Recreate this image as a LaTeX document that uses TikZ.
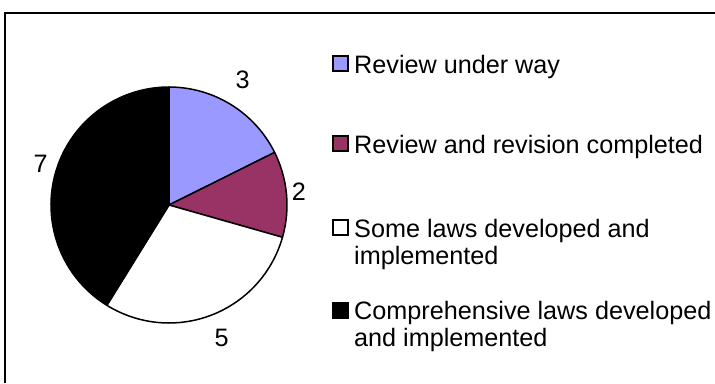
\documentclass[tikz,border=0pt]{standalone}
\usepackage{fontspec}
\setmainfont{Liberation Sans}
\definecolor{pieblue}{HTML}{9999FF}
\definecolor{piepurple}{HTML}{993366}
\tikzset{
  slice/.style={draw=black, line width=1.5bp, line join=round},
  legsq/.style={draw=black, line width=1.5bp, minimum size=15bp, inner sep=0pt},
  legtext/.style={anchor=base west, inner sep=0pt, font=\fontsize{25.2bp}{28bp}\selectfont},
  numlabel/.style={inner sep=0pt, font=\fontsize{25.2bp}{28bp}\selectfont},
}
\begin{document}
\begin{tikzpicture}[x=1bp, y=-1bp]
\useasboundingbox (0,0) rectangle (715,383);
% frame (only top and left edges visible)
\draw[line width=1.5bp] (5,383) -- (5,13) -- (715,13);
% pie
\begin{scope}[shift={(169,205)}, y=1bp]
  \coordinate (c) at (0,0);
  \filldraw[slice, fill=pieblue] (c) -- (90:118) arc[start angle=90, end angle=26.47, radius=118] -- cycle;
  \filldraw[slice, fill=piepurple] (c) -- (26.47:118) arc[start angle=26.47, end angle=-15.88, radius=118] -- cycle;
  \filldraw[slice, fill=white] (c) -- (-15.88:118) arc[start angle=-15.88, end angle=-121.76, radius=118] -- cycle;
  \filldraw[slice, fill=black] (c) -- (-121.76:118) arc[start angle=-121.76, end angle=-270, radius=118] -- cycle;
\end{scope}
% value labels
\node[numlabel] (n3) at (242.7,80) {3};
\node[numlabel] (n2) at (299,191.5) {2};
\node[numlabel] (n5) at (221.7,338) {5};
\node[numlabel] (n7) at (40.7,164) {7};
% legend
\node[legsq, fill=pieblue] (sq1) at (340.5,63.5) {};
\node[legtext] (l1) at (354,73) {Review under way};
\node[legsq, fill=piepurple] (sq2) at (340.5,143.5) {};
\node[legtext] (l2) at (354,153) {Review and revision completed};
\node[legsq, fill=white] (sq3) at (340.5,227.5) {};
\node[legtext] (l3a) at (354,237) {Some laws developed and};
\node[legtext] (l3b) at (354,264) {implemented};
\node[legsq, fill=black] (sq4) at (340.5,310.5) {};
\node[legtext] (l4a) at (354,319) {Comprehensive laws developed};
\node[legtext] (l4b) at (354,346) {and implemented};
\end{tikzpicture}
\end{document}
